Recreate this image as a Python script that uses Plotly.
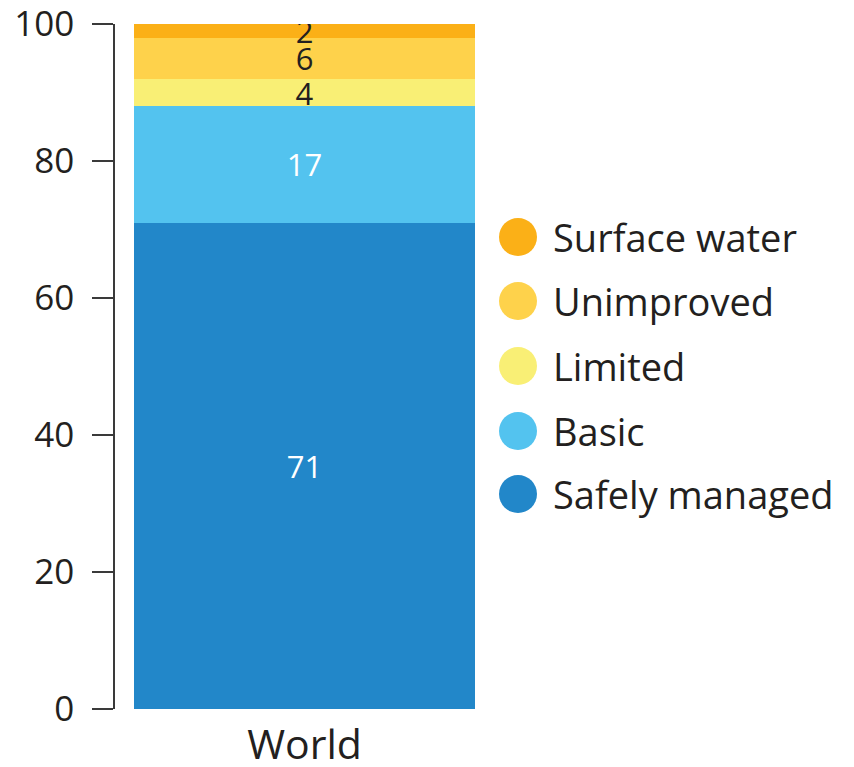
import plotly.graph_objects as go

categories = ["World"]
series_names = ["Safely managed", "Basic", "Limited", "Unimproved", "Surface water"]
series_values = [[71], [17], [4], [6], [2]]
series_colors = ["#2287C9", "#53C3EF", "#F9EF75", "#FED24B", "#FBB017"]
text_colors = ["#FFFFFF", "#FFFFFF", "#231F20", "#231F20", "#231F20"]
y_ticks = [0, 20, 40, 60, 80, 100]

FONT = "Open Sans"
DARK = "#231F20"

# page body has an 8px margin: shrink the figure and shift margins accordingly
W, H = 846, 759
L, T = 107, 16
PW, PH = 379, 685

fig = go.Figure()
for name, vals, col, tcol in zip(series_names, series_values, series_colors, text_colors):
    fig.add_trace(go.Bar(
        x=categories, y=vals, name=name,
        marker=dict(color=col, line=dict(width=0)),
        text=[str(v) for v in vals],
        textposition="inside", insidetextanchor="middle",
        textangle=0, constraintext="none",
        textfont=dict(family=FONT, size=31, color=tcol),
        showlegend=False, hoverinfo="skip",
    ))

# manual legend with large circular markers (top item = last series)
legend_centers_px = [237, 301, 366, 431, 494]   # page-pixel centres (layout)
for (name, col), ypx in zip(zip(series_names[::-1], series_colors[::-1]), legend_centers_px):
    yc = 1.0 - ((ypx - 8) - T) / PH
    fig.add_shape(type="circle", xref="paper", yref="paper",
                  x0=1.0 + (499 - 8 - L - PW) / PW, x1=1.0 + (537 - 8 - L - PW) / PW,
                  y0=yc - 19 / PH, y1=yc + 19 / PH,
                  fillcolor=col, line=dict(width=0))
    fig.add_annotation(text=name, xref="paper", yref="paper",
                       x=1.0 + (551 - 8 - L - PW) / PW, y=yc, xanchor="left", yanchor="middle",
                       showarrow=False, font=dict(family=FONT, size=38, color=DARK))

fig.update_layout(
    width=W, height=H,
    margin=dict(l=L, r=W - L - PW, t=T, b=H - T - PH),
    paper_bgcolor="white", plot_bgcolor="white",
    barmode="stack", bargap=0.1,
    font=dict(family=FONT, color=DARK),
    xaxis=dict(showline=False, showgrid=False, ticks="", automargin=False,
               ticklabelstandoff=8,
               tickfont=dict(family=FONT, size=41, color=DARK), range=[-0.5, 0.5]),
    yaxis=dict(range=[0, 100], tickvals=y_ticks, showgrid=False, zeroline=False,
               automargin=False, ticklabeloverflow="allow",
               showline=True, linecolor="#3a3a3a", linewidth=1.5,
               ticks="outside", ticklen=21, tickwidth=1.5, tickcolor="#3a3a3a",
               ticklabelstandoff=11,
               tickfont=dict(family=FONT, size=35, color=DARK)),
)

fig.write_html("out.html")
